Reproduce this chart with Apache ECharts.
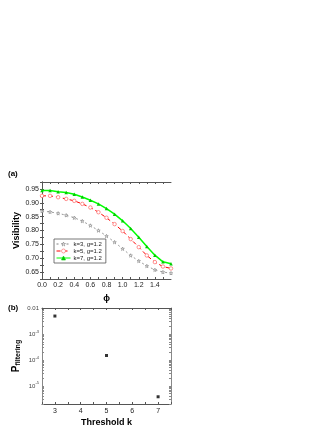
<!DOCTYPE html>
<html>
<head>
<meta charset="utf-8">
<script src="https://cdn.jsdelivr.net/npm/echarts@6/dist/echarts.min.js"></script>
<style>
  html, body { margin: 0; padding: 0; background: #fff; }
  #chart { width: 332px; height: 430px; }
</style>
</head>
<body>
<div id="chart"></div>
<script>
// panel (a): visibility vs phi
const phi = [0.0, 0.1, 0.2, 0.3, 0.4, 0.5, 0.6, 0.7, 0.8, 0.9, 1.0, 1.1, 1.2, 1.3, 1.4, 1.5, 1.6];
const visK3 = [0.870, 0.867, 0.862, 0.855, 0.846, 0.834, 0.818, 0.800, 0.780, 0.758, 0.734, 0.710, 0.690, 0.672, 0.658, 0.650, 0.646];
const visK5 = [0.925, 0.925, 0.920, 0.914, 0.907, 0.896, 0.883, 0.866, 0.846, 0.823, 0.798, 0.769, 0.740, 0.710, 0.686, 0.670, 0.663];
const visK7 = [0.944, 0.944, 0.940, 0.937, 0.931, 0.921, 0.909, 0.896, 0.879, 0.859, 0.835, 0.807, 0.776, 0.742, 0.711, 0.687, 0.680];
const seriesNames = ['k=3, g=1.2', 'k=5, g=1.2', 'k=7, g=1.2'];
const phiTicks = [0.0, 0.2, 0.4, 0.6, 0.8, 1.0, 1.2, 1.4];
const visTicks = [0.65, 0.70, 0.75, 0.80, 0.85, 0.90, 0.95];

// panel (b): filtering probability vs threshold
const thresholds = [3, 5, 7];
const pFiltering = [4.9e-3, 1.48e-4, 3.8e-6];
const kTicks = [3, 4, 5, 6, 7];
const pTicks = [1e-5, 1e-4, 1e-3, 1e-2];

const FONT = 'Liberation Sans';
const STAR = 'path://M50,0 L61,35 L98,35 L68,57 L79,91 L50,70 L21,91 L32,57 L2,35 L39,35 Z';

function pair(xs, ys) {
    return xs.map((x, i) => [x, ys[i]]);
}

// minor ticks for the log axis
const pMinor = [];
[1e-6, 1e-5, 1e-4, 1e-3].forEach(d => {
    for (let m = 1; m <= 9; m++) {
        const v = m * d;
        if (v >= 2e-6 && v <= 1e-2) pMinor.push(v);
    }
});
const halfTicks = [];
for (let k = 2.5; k <= 7.5; k += 0.5) halfTicks.push(k);
const visMinor = [];
for (let v = 0.625; v <= 0.976; v += 0.025) visMinor.push(Math.round(v * 1000) / 1000);
const phiMinor = [];
for (let v = 0; v <= 1.6; v += 0.1) phiMinor.push(Math.round(v * 10) / 10);

const frameLine = { show: true, lineStyle: { color: '#555', width: 1 } };
const labelStyle = { fontFamily: FONT, fontSize: 7, color: '#222' };

function supLabel(v) {
    if (v >= 0.01) return '0.01';
    const e = Math.round(Math.log10(v));
    return '10{s|' + e + '}';
}

const chart = echarts.init(document.getElementById('chart'), null, { renderer: 'canvas' });
chart.setOption({
    animation: false,
    backgroundColor: '#fff',
    textStyle: { fontFamily: FONT },
    graphic: [
        { type: 'text', left: 8, top: 170, style: { text: '(a)', font: 'bold 8px ' + FONT, fill: '#000' } },
        { type: 'text', left: 8, top: 304, style: { text: '(b)', font: 'bold 8px ' + FONT, fill: '#000' } }
    ],
    grid: [
        { left: 42, top: 182, width: 129, height: 97, show: false },
        { left: 42, top: 308, width: 129, height: 96, show: false }
    ],
    legend: {
        data: seriesNames,
        orient: 'vertical',
        left: 54,
        top: 239,
        padding: [2, 4, 2, 2],
        itemGap: 1,
        itemWidth: 14,
        itemHeight: 5,
        itemStyle: { borderWidth: 0.6 },
        lineStyle: { width: 1 },
        borderColor: '#555',
        borderWidth: 0.8,
        backgroundColor: '#fff',
        textStyle: { fontFamily: FONT, fontSize: 6, color: '#222', padding: [0, 0, 0, -2] }
    },
    xAxis: [
        {
            gridIndex: 0, type: 'value', min: 0, max: 1.6,
            name: 'ϕ', nameLocation: 'middle', nameGap: 15,
            nameTextStyle: { fontFamily: FONT, fontSize: 9, fontWeight: 'bold', color: '#000' },
            axisLine: frameLine,
            axisTick: { show: true, inside: true, length: 2, customValues: phiMinor, lineStyle: { color: '#555' } },
            axisLabel: Object.assign({ margin: 3, customValues: phiTicks, formatter: v => v.toFixed(1) }, labelStyle),
            splitLine: { show: false }
        },
        {
            gridIndex: 0, type: 'value', position: 'top', min: 0, max: 1.6,
            axisLine: frameLine,
            axisTick: { show: true, inside: true, length: 2, customValues: phiMinor, lineStyle: { color: '#555' } },
            axisLabel: { show: false },
            splitLine: { show: false }
        },
        {
            gridIndex: 1, type: 'value', min: 2.5, max: 7.5,
            name: 'Threshold k', nameLocation: 'middle', nameGap: 14,
            nameTextStyle: { fontFamily: FONT, fontSize: 9, fontWeight: 'bold', color: '#000' },
            axisLine: frameLine,
            axisTick: { show: true, inside: true, length: 2, customValues: halfTicks, lineStyle: { color: '#555' } },
            axisLabel: Object.assign({ margin: 4, customValues: kTicks }, labelStyle),
            splitLine: { show: false }
        },
        {
            gridIndex: 1, type: 'value', position: 'top', min: 2.5, max: 7.5,
            axisLine: frameLine,
            axisTick: { show: true, inside: true, length: 2, customValues: halfTicks, lineStyle: { color: '#555' } },
            axisLabel: { show: false },
            splitLine: { show: false }
        }
    ],
    yAxis: [
        {
            gridIndex: 0, type: 'value', min: 0.625, max: 0.975,
            name: 'Visibility', nameLocation: 'middle', nameGap: 20,
            nameTextStyle: { fontFamily: FONT, fontSize: 9, fontWeight: 'bold', color: '#000' },
            axisLine: frameLine,
            axisTick: { show: true, inside: true, length: 2, customValues: visMinor, lineStyle: { color: '#555' } },
            axisLabel: Object.assign({ margin: 3, customValues: visTicks, formatter: v => v.toFixed(2) }, labelStyle),
            splitLine: { show: false }
        },
        {
            gridIndex: 0, type: 'value', position: 'right', min: 0.625, max: 0.975,
            axisLine: frameLine,
            axisTick: { show: true, inside: true, length: 2, customValues: visMinor, lineStyle: { color: '#555' } },
            axisLabel: { show: false },
            splitLine: { show: false }
        },
        {
            gridIndex: 1, type: 'log', logBase: 10, min: 2e-6, max: 1e-2,
            name: '{p|P}{s|filtering}', nameLocation: 'middle', nameGap: 20,
            nameTextStyle: {
                rich: {
                    p: { fontFamily: FONT, fontSize: 10, fontWeight: 'bold', color: '#000' },
                    s: { fontFamily: FONT, fontSize: 7, fontWeight: 'bold', color: '#000', padding: [5, 0, 0, 0] }
                }
            },
            axisLine: { show: true, lineStyle: { color: '#888', width: 1 } },
            axisTick: { show: true, inside: true, length: 2, customValues: pMinor, lineStyle: { color: '#888' } },
            axisLabel: {
                margin: 3, customValues: pTicks, formatter: supLabel,
                fontFamily: FONT, fontSize: 6, color: '#444',
                rich: { s: { fontFamily: FONT, fontSize: 4, color: '#444', padding: [0, 0, 5, 0] } }
            },
            splitLine: { show: false }
        },
        {
            gridIndex: 1, type: 'log', logBase: 10, position: 'right', min: 2e-6, max: 1e-2,
            axisLine: { show: true, lineStyle: { color: '#888', width: 1 } },
            axisTick: { show: true, inside: true, length: 2, customValues: pMinor, lineStyle: { color: '#888' } },
            axisLabel: { show: false },
            splitLine: { show: false }
        }
    ],
    series: [
        {
            name: seriesNames[0], type: 'line', xAxisIndex: 0, yAxisIndex: 0,
            data: pair(phi, visK3),
            symbol: STAR, symbolSize: 3.5, showAllSymbol: true,
            itemStyle: { color: '#fff', borderColor: '#808080', borderWidth: 0.6 },
            lineStyle: { color: '#808080', width: 0.8, type: [2, 3] }
        },
        {
            name: seriesNames[1], type: 'line', xAxisIndex: 0, yAxisIndex: 0,
            data: pair(phi, visK5),
            symbol: 'circle', symbolSize: 3.5, showAllSymbol: true,
            itemStyle: { color: '#fff', borderColor: '#ff6060', borderWidth: 0.7 },
            lineStyle: { color: '#ff0000', width: 1, type: [4, 3] }
        },
        {
            name: seriesNames[2], type: 'line', xAxisIndex: 0, yAxisIndex: 0,
            data: pair(phi, visK7),
            symbol: 'triangle', symbolSize: 3.5, showAllSymbol: true,
            itemStyle: { color: '#00cc00', borderColor: '#00cc00', borderWidth: 0 },
            lineStyle: { color: '#00ff00', width: 1.5 }
        },
        {
            name: 'filtering', type: 'scatter', xAxisIndex: 2, yAxisIndex: 2,
            data: pair(thresholds, pFiltering),
            symbol: 'rect', symbolSize: 3,
            itemStyle: { color: '#000' }
        }
    ]
});
</script>
</body>
</html>
